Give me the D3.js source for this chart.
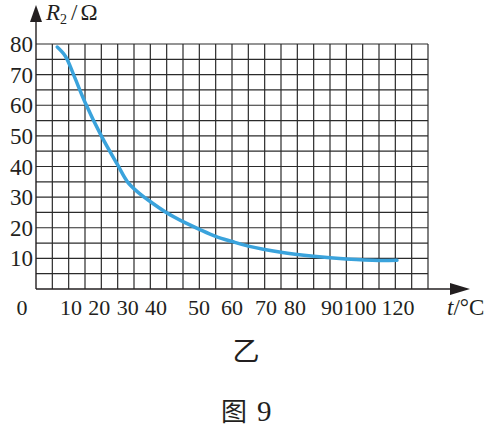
<!DOCTYPE html>
<html>
<head>
<meta charset="utf-8">
<script src="https://cdn.jsdelivr.net/npm/d3@7"></script>
<style>
  body { margin: 0; background: #fff; }
  svg { display: block; }
</style>
</head>
<body>
<svg width="486" height="428"></svg>
<script>
// data: temperature t (°C) vs resistance R2 (Ω)
const temps = [6.5, 9, 11.5, 15, 20, 25, 28, 31, 34, 40, 45, 50, 55, 60, 65, 75, 85, 95, 105, 110.5];
const resist = [79, 76, 70, 61, 50, 40.5, 35, 31.8, 29.3, 24.9, 22, 19.5, 17.2, 15.5, 14, 12, 10.7, 9.8, 9.3, 9.4];

// tick labels
const yTicks = [10, 20, 30, 40, 50, 60, 70, 80];
const xTicks = [0, 10, 20, 30, 40, 50, 60, 70, 80, 90, 100, 120];

const serif = "'Liberation Serif', 'DejaVu Serif', serif";
const cjk = "'Noto Sans CJK SC', sans-serif";

const svg = d3.select("svg")
    .style("font-family", serif)
    .attr("fill", "#231f20");

// scales
const x = d3.scaleLinear().domain([0, 120]).range([36, 428]);
const y = d3.scaleLinear().domain([0, 80]).range([289, 44]);

// the printed x labels do not sit on the grid, so they get their own scale
const xLabel = d3.scaleLinear()
    .domain([0, 10, 40, 50, 60, 70, 80, 90, 100, 120])
    .range([22, 71, 156, 199, 232, 266, 295, 332, 360, 398]);

// grid
const grid = svg.append("g")
    .attr("stroke", "#2b2b2b")
    .attr("stroke-width", 1.2);

grid.selectAll("line.v")
  .data(d3.range(5, 121, 5))
  .enter().append("line")
    .attr("class", "v")
    .attr("x1", d => x(d)).attr("x2", d => x(d))
    .attr("y1", y(0)).attr("y2", y(80));

grid.selectAll("line.h")
  .data(d3.range(5, 81, 5))
  .enter().append("line")
    .attr("class", "h")
    .attr("x1", x(0)).attr("x2", x(120))
    .attr("y1", d => y(d)).attr("y2", d => y(d));

// axes with arrows
const axes = svg.append("g").attr("stroke", "#231f20").attr("stroke-width", 1.4);
axes.append("line").attr("x1", x(0)).attr("x2", x(0)).attr("y1", y(0)).attr("y2", 18);
axes.append("line").attr("x1", x(0)).attr("x2", 452).attr("y1", y(0)).attr("y2", y(0));

svg.append("path")
    .attr("d", `M${x(0)},5 L${x(0) - 6},22 L${x(0) + 6},22 Z`)
    .attr("fill", "#231f20");
svg.append("path")
    .attr("d", `M470,${y(0)} L450,${y(0) - 6} L450,${y(0) + 6} Z`)
    .attr("fill", "#231f20");

// y tick labels
svg.append("g").selectAll("text")
  .data(yTicks)
  .enter().append("text")
    .attr("x", 33)
    .attr("y", d => y(d) + 8)
    .attr("text-anchor", "end")
    .style("font-family", serif)
    .style("font-size", "23px")
    .text(d => d);

// x tick labels
svg.append("g").selectAll("text")
  .data(xTicks)
  .enter().append("text")
    .attr("x", d => xLabel(d))
    .attr("y", 315)
    .attr("text-anchor", "middle")
    .style("font-family", serif)
    .style("font-size", "22px")
    .text(d => d);

// axis titles
const yTitle = svg.append("text").attr("x", 46).attr("y", 20)
    .style("font-family", serif).style("font-size", "23px");
yTitle.append("tspan").style("font-style", "italic").text("R");
yTitle.append("tspan").style("font-size", "14px").attr("dy", 4).text("2");
yTitle.append("tspan").attr("dy", -4).attr("dx", 4).text("/");
yTitle.append("tspan").attr("dx", 3).text("Ω");

const xTitle = svg.append("text").attr("x", 447).attr("y", 315)
    .style("font-family", serif).style("font-size", "23px");
xTitle.append("tspan").style("font-style", "italic").text("t");
xTitle.append("tspan").text("/°C");

// curve
const line = d3.line()
    .x((d, i) => x(temps[i]))
    .y(d => y(d))
    .curve(d3.curveCatmullRom.alpha(0.5));

svg.append("path")
    .datum(resist)
    .attr("d", line)
    .attr("fill", "none")
    .attr("stroke", "#3aa3dc")
    .attr("stroke-width", 3.5)
    .attr("stroke-linecap", "round");

// captions
svg.append("text")
    .attr("x", 246).attr("y", 361)
    .attr("text-anchor", "middle")
    .style("font-family", cjk)
    .style("font-size", "27px")
    .text("乙");

const cap = svg.append("text").attr("x", 221).attr("y", 421);
cap.append("tspan").style("font-family", cjk).style("font-size", "26px").text("图");
cap.append("tspan").attr("dx", 10).style("font-family", serif).style("font-size", "29px").text("9");
</script>
</body>
</html>
